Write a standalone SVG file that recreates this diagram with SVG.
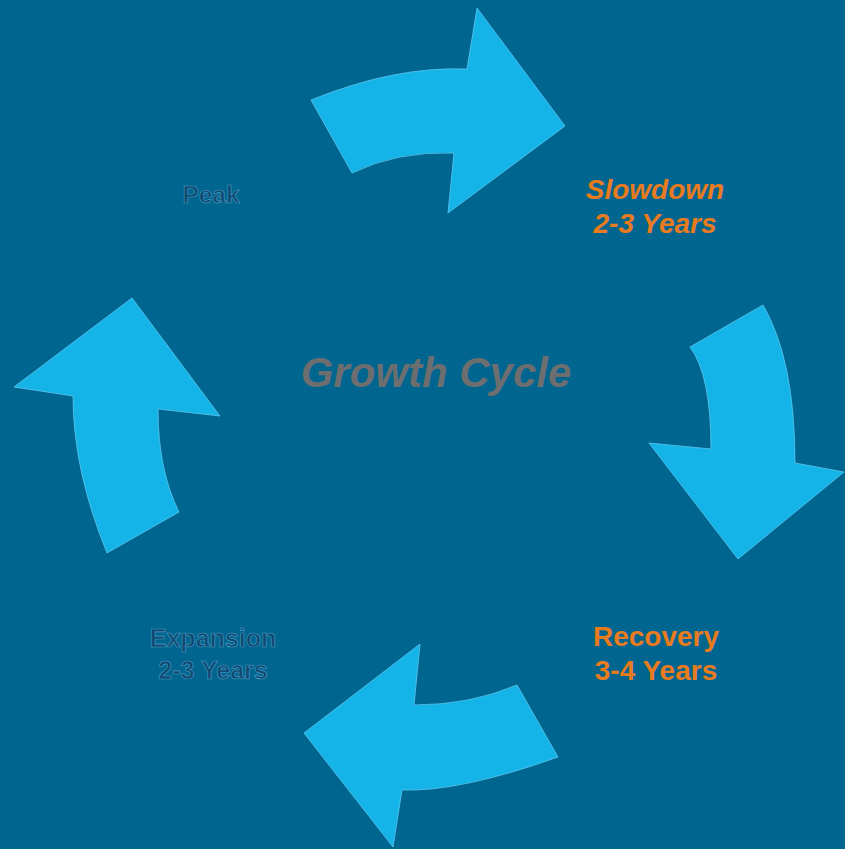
<svg xmlns="http://www.w3.org/2000/svg" width="845" height="849" viewBox="0 0 845 849">
<style>
.arrow{fill:#14b3e8;stroke:#5cc8ee;stroke-width:0.8;stroke-linejoin:miter}
.navy{font-family:"Liberation Sans",Arial,sans-serif;font-weight:bold;fill:#0f4a72;stroke:#4f9fc6;stroke-width:0.6;text-anchor:middle}
.orange{font-family:"Liberation Sans",Arial,sans-serif;font-weight:bold;fill:#e97b1f;font-size:28px;text-anchor:middle}
.title{font-family:"Liberation Sans",Arial,sans-serif;font-weight:bold;font-style:italic;fill:#6d6e70;font-size:42px;text-anchor:middle}
</style>
<rect width="845" height="849" fill="#00658f"/>
<g id="connectors">
<path id="arrow-top" class="arrow" d="M311,100 Q395,66 467,69 L477,8 L565,126 L448,213 L454,153 Q397,151 352,173 Z"/>
<path id="arrow-right" class="arrow" d="M763,305 L690,347 Q711,375 711,449 L649,443 L738,559 L844,472 L795,463 Q795,360 763,305 Z"/>
<path id="arrow-bottom" class="arrow" d="M414,705 Q470,705 517,685 L558,757 Q460,792 402,790 L393,847 L304,733 L420,644 Z"/>
<path id="arrow-left" class="arrow" d="M132,298 L220,416 L158,409 Q158,470 179,512 L107,553 Q73,470 73,396 L14,387 Z"/>
</g>
<g id="center">
<text class="title" x="436" y="387">Growth Cycle</text>
</g>
<g id="peak">
<text class="navy" x="211" y="203" font-size="24.5">Peak</text>
</g>
<g id="slowdown">
<text class="orange" x="655" y="199" font-style="italic">Slowdown</text>
<text class="orange" x="655" y="233" font-style="italic">2-3 Years</text>
</g>
<g id="recovery">
<text class="orange" x="656" y="646">Recovery</text>
<text class="orange" x="656" y="680">3-4 Years</text>
</g>
<g id="expansion">
<text class="navy" x="213" y="647" font-size="25">Expansion</text>
<text class="navy" x="213" y="679" font-size="25">2-3 Years</text>
</g>
</svg>
